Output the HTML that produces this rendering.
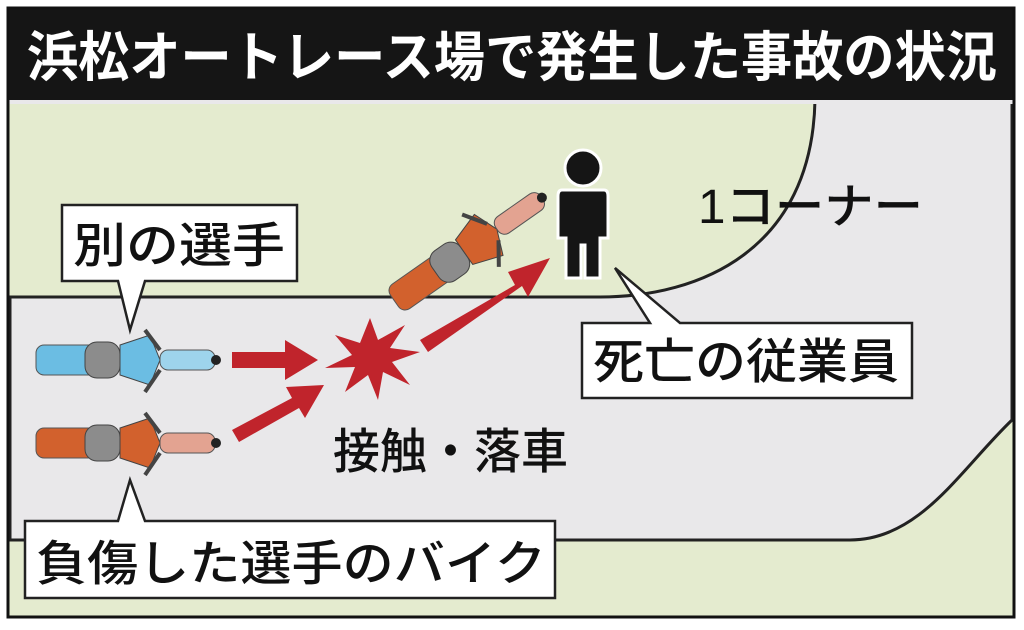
<!DOCTYPE html>
<html><head><meta charset="utf-8"><style>
body{margin:0;width:1024px;height:625px;overflow:hidden;background:#fff}
text{font-family:"Liberation Sans","Noto Sans CJK JP",sans-serif}
</style></head><body>
<svg width="1024" height="625" viewBox="0 0 1024 625" xmlns="http://www.w3.org/2000/svg">
<rect x="0" y="0" width="1024" height="625" fill="#fff"/>
<rect x="8" y="8" width="1006" height="609" fill="#e4ebcf" stroke="#111" stroke-width="3"/>
<path d="M10,297 L600,297 C700,297 812,250 815,100 L1012,100 L1012,420 C960,470 920,540 850,540 L10,540 Z" fill="#e9e8ea" stroke="#222" stroke-width="3"/>
<rect x="8" y="98" width="1006" height="6" fill="#e9e8ea"/>
<rect x="8" y="8" width="1006" height="92" fill="#151515"/>
<text x="512" y="76" font-size="54" font-weight="bold" fill="#fff" text-anchor="middle" textLength="970" lengthAdjust="spacingAndGlyphs">浜松オートレース場で発生した事故の状況</text>
<rect x="8" y="8" width="1006" height="609" fill="none" stroke="#111" stroke-width="3"/>

<g>
<rect x="36" y="345" width="75" height="30" rx="8" fill="#6bbde3" stroke="#555"/>
<rect x="85" y="342" width="35" height="36" rx="12" fill="#8c8c8c" stroke="#444"/>
<path d="M120,345 L150,335 L160,360 L150,385 L120,375 Z" fill="#6bbde3" stroke="#444"/>
<rect x="160" y="350" width="55" height="20" rx="8" fill="#9ed4ec" stroke="#555"/>
<circle cx="216" cy="360" r="5" fill="#222"/>
<line x1="145" y1="330" x2="160" y2="350" stroke="#444" stroke-width="4"/>
<line x1="145" y1="392" x2="160" y2="370" stroke="#444" stroke-width="4"/>
</g>
<g>
<rect x="36" y="428" width="75" height="30" rx="8" fill="#d2612d" stroke="#555"/>
<rect x="85" y="425" width="35" height="36" rx="12" fill="#8c8c8c" stroke="#444"/>
<path d="M120,428 L150,418 L160,443 L150,468 L120,458 Z" fill="#d2612d" stroke="#444"/>
<rect x="160" y="433" width="55" height="20" rx="8" fill="#e3a391" stroke="#555"/>
<circle cx="216" cy="443" r="5" fill="#222"/>
<line x1="145" y1="413" x2="160" y2="433" stroke="#444" stroke-width="4"/>
<line x1="145" y1="475" x2="160" y2="453" stroke="#444" stroke-width="4"/>
</g>
<g transform="translate(460,255) rotate(-35)">
<rect x="-80" y="-15" width="75" height="30" rx="8" fill="#d2612d" stroke="#555"/>
<rect x="-30" y="-18" width="35" height="36" rx="12" fill="#8c8c8c" stroke="#444"/>
<path d="M5,-15 L35,-25 L45,0 L35,25 L5,15 Z" fill="#d2612d" stroke="#444"/>
<rect x="45" y="-10" width="55" height="20" rx="8" fill="#e3a391" stroke="#555"/>
<circle cx="100" cy="0" r="5" fill="#222"/>
<line x1="25" y1="-32" x2="40" y2="-10" stroke="#444" stroke-width="4"/>
<line x1="25" y1="32" x2="40" y2="10" stroke="#444" stroke-width="4"/>
</g>

<g fill="#c0242c">
<path d="M232,352 L285,352 L285,340 L318,360 L285,380 L285,368 L232,368 Z"/>
<path d="M232,430 L292,398 L286,387 L324,385 L305,418 L299,408 L239,442 Z"/>
<path d="M420,340 L515,285 L508,272 L550,258 L528,297 L522,286 L428,352 Z"/>
<path d="M370,318 L378,340 L405,325 L390,348 L420,352 L392,362 L410,385 L383,372 L378,400 L368,375 L345,392 L355,367 L325,368 L352,355 L335,335 L360,343 Z"/>
</g>

<g fill="#151515" stroke="#fff" stroke-width="3">
<circle cx="583" cy="168" r="18"/>
<path d="M562,190 L604,190 Q608,190 608,196 L608,238 L600,238 L600,278 L585,278 L585,245 L581,245 L581,278 L566,278 L566,238 L558,238 L558,196 Q558,190 562,190 Z"/>
</g>

<g fill="#fff" stroke="#222" stroke-width="2.5">
<path d="M62,205 L297,205 L297,281 L145,281 L130,330 L118,281 L62,281 Z"/>
<path d="M25,521 L118,521 L130,480 L145,521 L555,521 L555,598 L25,598 Z"/>
<path d="M582,323 L650,323 L615,268 L680,323 L912,323 L912,398 L582,398 Z"/>
</g>
<g font-size="48" fill="#111" font-weight="500">
<text x="73" y="262" textLength="212" lengthAdjust="spacingAndGlyphs">別の選手</text>
<text x="36" y="580" textLength="510" lengthAdjust="spacingAndGlyphs">負傷した選手のバイク</text>
<text x="593" y="378" textLength="306" lengthAdjust="spacingAndGlyphs">死亡の従業員</text>
<text x="698" y="223" textLength="225" lengthAdjust="spacingAndGlyphs">1コーナー</text>
<text x="333" y="468" textLength="235" lengthAdjust="spacingAndGlyphs">接触・落車</text>
</g>
</svg>
</body></html>
